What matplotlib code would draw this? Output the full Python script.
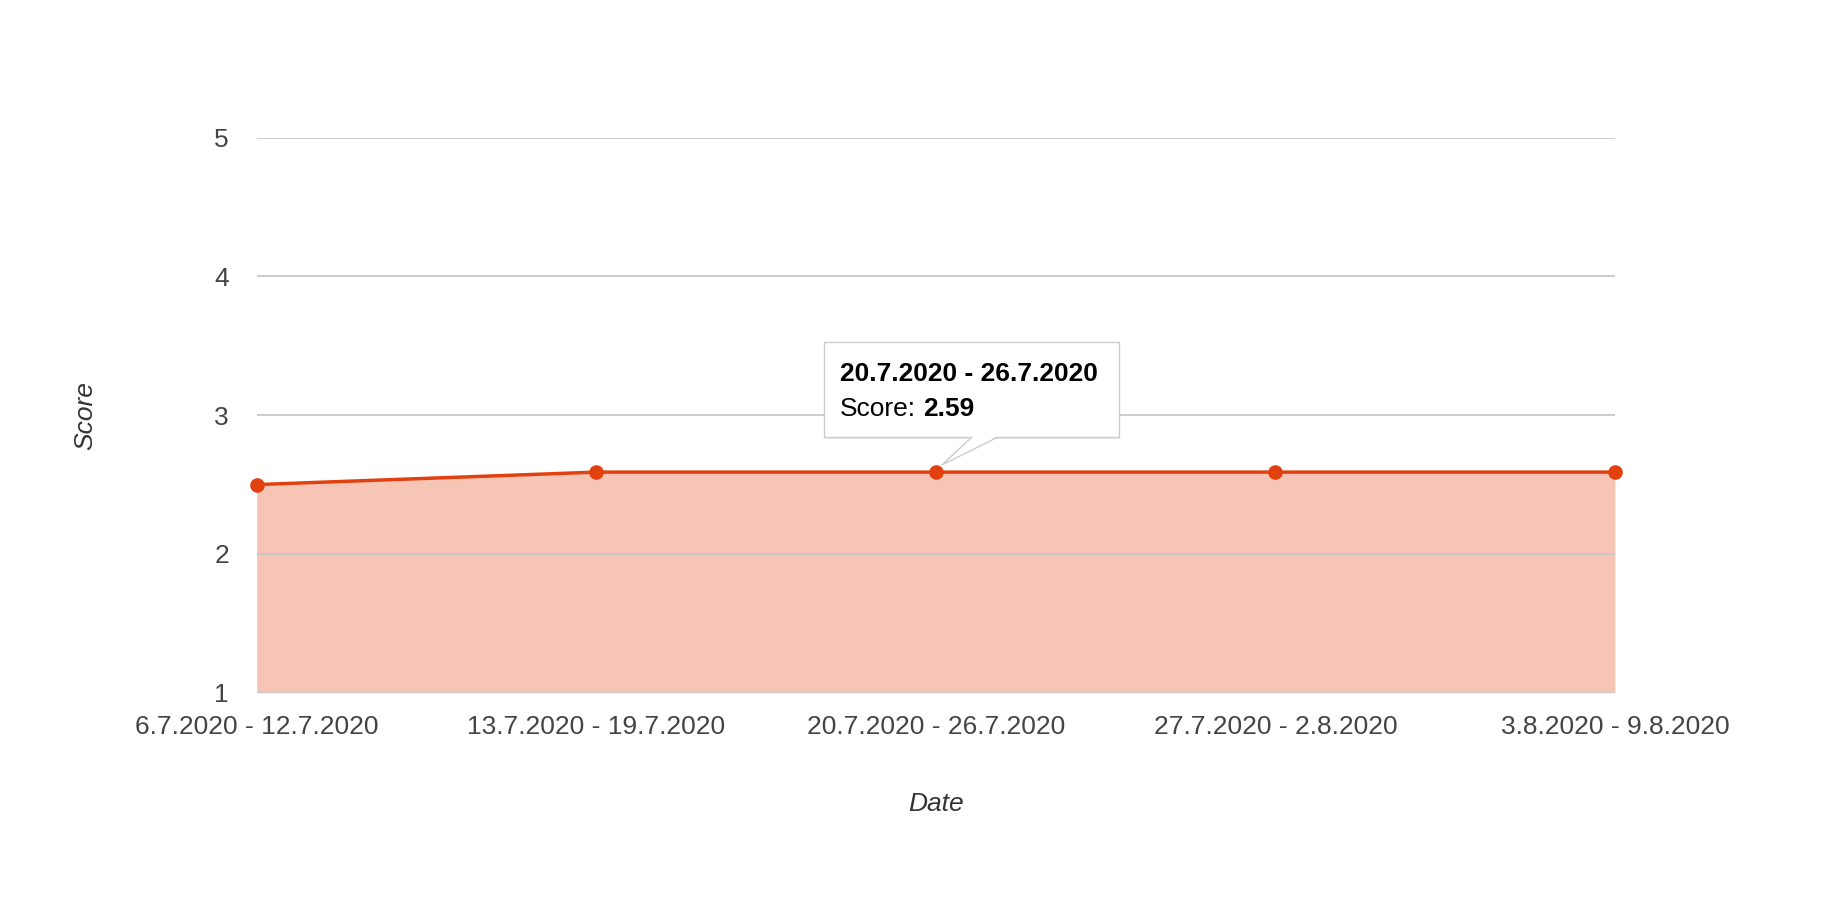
import matplotlib
matplotlib.use('Agg')
import matplotlib.pyplot as plt
from matplotlib.patches import Rectangle, Polygon
from matplotlib.lines import Line2D
from matplotlib.transforms import IdentityTransform

# --- dados ---
weeks = ['6.7.2020 - 12.7.2020', '13.7.2020 - 19.7.2020', '20.7.2020 - 26.7.2020',
         '27.7.2020 - 2.8.2020', '3.8.2020 - 9.8.2020']
scores = [2.50, 2.59, 2.59, 2.59, 2.59]
y_ticks = [1, 2, 3, 4, 5]
tip_idx = 2  # ponto com o tooltip

LINE_COLOR = '#e2410f'
plt.rcParams['font.family'] = ['Liberation Sans', 'DejaVu Sans']

fig = plt.figure(figsize=(18.4, 9), dpi=100)
ax = fig.add_axes([0.1395, 0.2303, 0.7382, 0.6167])

x = list(range(len(weeks)))
ax.fill_between(x, scores, y_ticks[0], color=LINE_COLOR, alpha=0.3, linewidth=0, zorder=1)
ax.plot(x, scores, color=LINE_COLOR, linewidth=2.5, marker='o', markersize=9.5,
        clip_on=False, zorder=3)

ax.set_xlim(0, len(weeks) - 1)
ax.set_ylim(y_ticks[0], y_ticks[-1])
ax.set_xticks(x)
ax.set_xticklabels(weeks)
ax.set_yticks(y_ticks)
ax.tick_params(axis='both', length=0, labelsize=19, colors='#444444')
ax.tick_params(axis='x', pad=16)
ax.tick_params(axis='y', pad=20)
for s in ax.spines.values():
    s.set_visible(False)
ax.grid(axis='y', color='#c8c8c8', linewidth=1.3)
ax.set_axisbelow(False)
for gl in ax.get_ygridlines():
    gl.set_zorder(2)

ax.set_ylabel('Score', fontsize=19, style='italic', color='#333333', labelpad=84)
ax.set_xlabel('Date', fontsize=19, style='italic', color='#333333', labelpad=38)

# --- tooltip ---
px, py = ax.transData.transform((x[tip_idx], scores[tip_idx]))
ident = IdentityTransform()
bl, br, bb, bt = px - 112, px + 183, py + 35, py + 130
ax.add_patch(Rectangle((bl + 1, bb - 2), br - bl, bt - bb, transform=ident,
                       fc='#000000', alpha=0.08, ec='none', zorder=9, clip_on=False))
ax.add_patch(Rectangle((bl, bb), br - bl, bt - bb, transform=ident, fc='white',
                       ec='#cccccc', lw=1, zorder=10, clip_on=False))
tip = (px + 6, py + 7)
base = [px + 36, px + 62]
ax.add_patch(Polygon([(base[0], bb + 1.5), tip, (base[1], bb + 1.5)], closed=True,
                     transform=ident, fc='white', ec='none', zorder=11, clip_on=False))
ax.add_line(Line2D([base[0], tip[0], base[1]], [bb, tip[1], bb],
                   transform=ident, color='#cccccc', lw=1, zorder=12, clip_on=False))

t1 = ax.annotate(weeks[tip_idx], xy=(x[tip_idx], scores[tip_idx]), xytext=(-96, 91),
                 textcoords='offset pixels', fontsize=19, fontweight='bold',
                 va='baseline', ha='left', zorder=13, annotation_clip=False)
t2 = ax.annotate('Score:', xy=(x[tip_idx], scores[tip_idx]), xytext=(-96, 56),
                 textcoords='offset pixels', fontsize=19, va='baseline', ha='left',
                 zorder=13, annotation_clip=False)
ax.annotate(f'{scores[tip_idx]:.2f}', xy=(1, 0), xycoords=t2, xytext=(7, 0),
            textcoords='offset pixels', fontsize=19, fontweight='bold',
            va='bottom', ha='left', zorder=13, annotation_clip=False)

fig.savefig('out.png', dpi=100)
